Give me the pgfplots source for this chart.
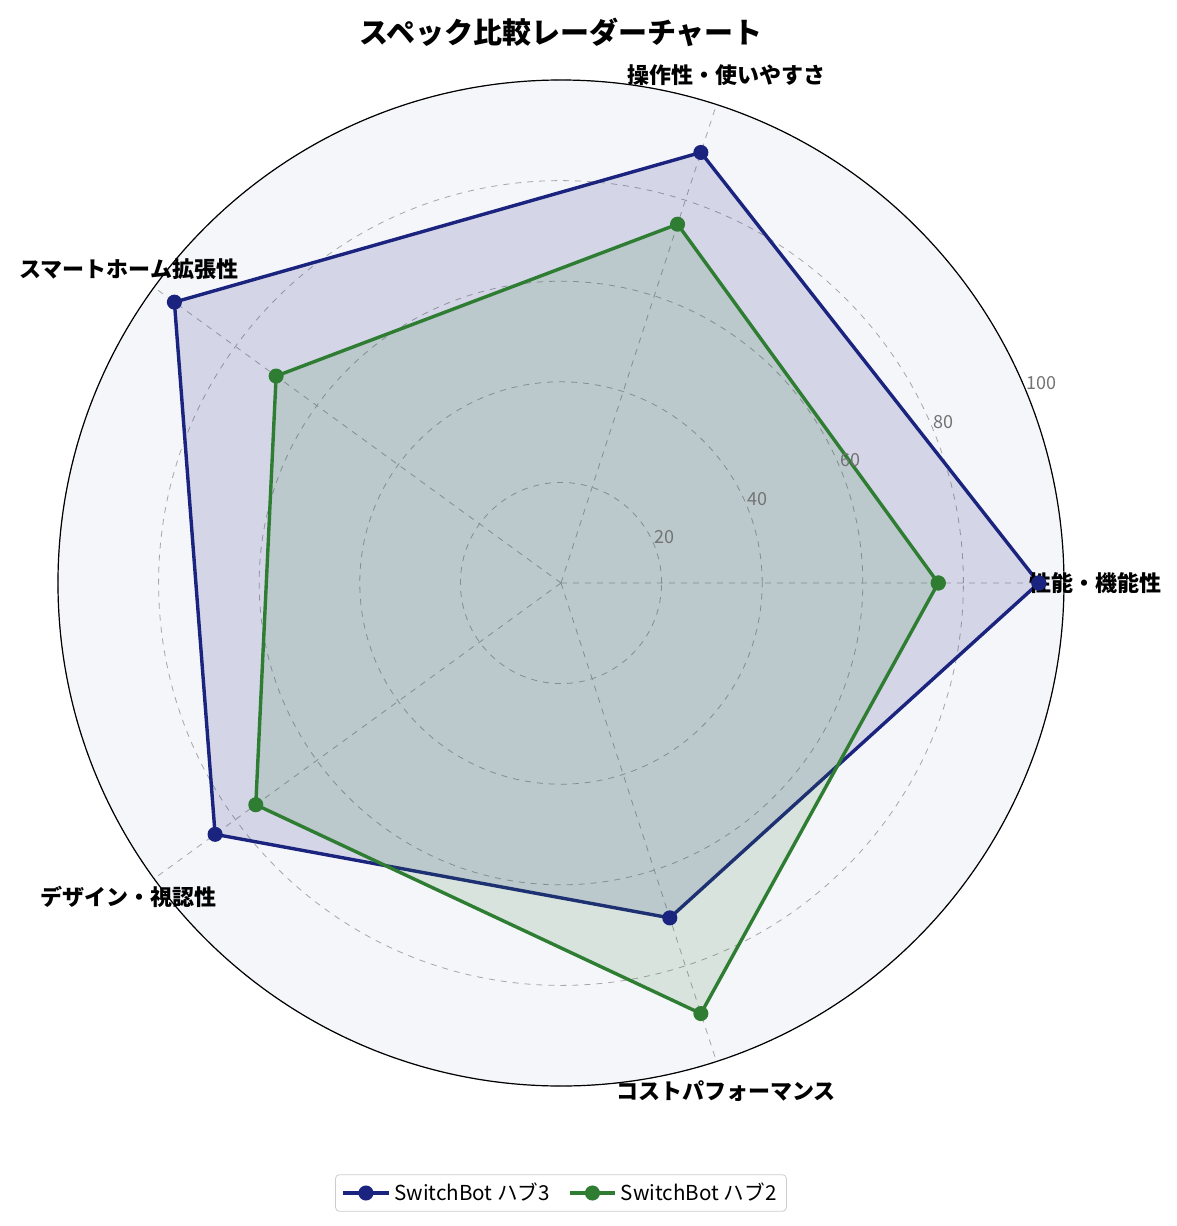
\documentclass[border=0pt]{standalone}
\usepackage{fontspec}
\setmainfont{Noto Sans CJK JP}
\usepackage{pgfplots}
\pgfplotsset{compat=1.18}
\usepgfplotslibrary{polar}

\definecolor{hubthree}{HTML}{1A237E}
\definecolor{hubtwo}{HTML}{2E7D32}
\definecolor{polarbg}{HTML}{F5F6FA}

\begin{document}
\begin{tikzpicture}[
    rad label/.style={anchor=south west, inner sep=0pt, text=gray!90!black,
        font=\fontsize{9pt}{10pt}\selectfont},
    cat label/.style={font=\fontsize{11pt}{13pt}\selectfont\bfseries, inner sep=0pt, anchor=center},
]
\useasboundingbox (-280.5pt,-321.5pt) rectangle (308pt,291.5pt);
\fill[polarbg] (0,0) circle[radius=251.5pt];
\begin{polaraxis}[
    at={(0,0)}, anchor=center,
    scale only axis,
    width=503pt, height=503pt,
    ymin=0, ymax=100,
    xtick={0,72,144,216,288},
    ytick={20,40,60,80,100},
    xticklabels={}, yticklabels={},
    major tick length=0pt,
    tick style={draw=none},
    grid=major,
    major grid style={dashed, gray!70, line width=0.4pt},
    x axis line style={black, line width=0.6pt},
    y axis line style={draw=none},
    clip=false,
    title={\bfseries スペック比較レーダーチャート},
    title style={font=\fontsize{14.5pt}{16pt}\selectfont, at={(0.5,1)}, anchor=center, yshift=9.5pt},
    legend style={at={(0.5,0)}, anchor=center, yshift=-53.5pt,
        legend columns=2, draw=gray!40, rounded corners=2pt,
        font=\fontsize{10.3pt}{12pt}\selectfont,
        /tikz/every even column/.append style={column sep=7pt}},
    legend cell align=left,
    legend image code/.code={%
        \draw[mark repeat=2, mark phase=2, #1]
            plot coordinates {(0cm,0cm) (0.4cm,0cm) (0.8cm,0cm)};},
]
\addplot[draw=hubthree, line width=1.7pt, fill=hubthree, fill opacity=0.15,
    mark=*, mark size=2.9pt, mark options={fill=hubthree, fill opacity=1}]
    coordinates {(0,95) (72,90) (144,95) (216,85) (288,70) (360,95)};
\addlegendentry{SwitchBot ハブ3}
\addplot[draw=hubtwo, line width=1.7pt, fill=hubtwo, fill opacity=0.15,
    mark=*, mark size=2.9pt, mark options={fill=hubtwo, fill opacity=1}]
    coordinates {(0,75) (72,75) (144,70) (216,75) (288,90) (360,75)};
\addlegendentry{SwitchBot ハブ2}

\node[rad label] at (axis cs:22.5,20) {20};
\node[rad label] at (axis cs:22.5,40) {40};
\node[rad label] at (axis cs:22.5,60) {60};
\node[rad label] at (axis cs:22.5,80) {80};
\node[rad label] at (axis cs:22.5,100) {100};

\node[cat label] at (axis cs:0,106.2) {性能・機能性};
\node[cat label] at (axis cs:72,106.2) {操作性・使いやすさ};
\node[cat label] at (axis cs:144,106.2) {スマートホーム拡張性};
\node[cat label] at (axis cs:216,106.2) {デザイン・視認性};
\node[cat label] at (axis cs:288,106.2) {コストパフォーマンス};
\end{polaraxis}
\end{tikzpicture}
\end{document}
